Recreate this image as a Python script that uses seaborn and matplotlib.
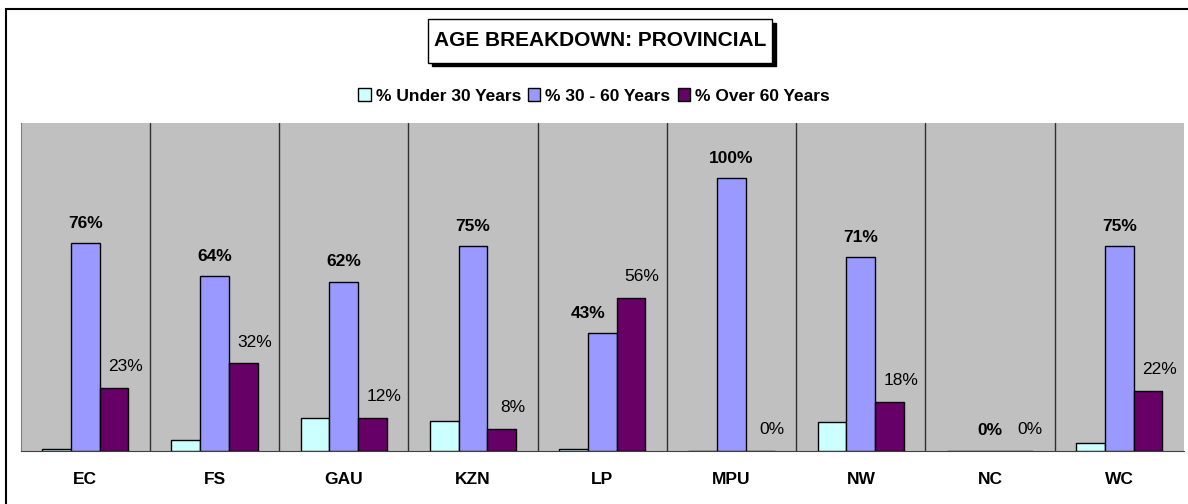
import numpy as np
import pandas as pd
import matplotlib.pyplot as plt
import seaborn as sns
from matplotlib.patches import Rectangle

# data
provinces = ['EC', 'FS', 'GAU', 'KZN', 'LP', 'MPU', 'NW', 'NC', 'WC']
series = ['% Under 30 Years', '% 30 - 60 Years', '% Over 60 Years']
under_30 = [0.5, 4, 12, 11, 0.5, 0, 10.5, 0, 3]
age_30_60 = [76, 64, 62, 75, 43, 100, 71, 0, 75]
over_60 = [23, 32, 12, 8, 56, 0, 18, 0, 22]
colours = ['#CCFFFF', '#9999FF', '#660066']

df = pd.DataFrame({
    'province': provinces * 3,
    'group': np.repeat(series, len(provinces)),
    'value': under_30 + age_30_60 + over_60,
})

sns.set_style('white')
plt.rcParams['font.family'] = ['Liberation Sans', 'DejaVu Sans']
plt.rcParams['text.color'] = 'black'
plt.rcParams['xtick.color'] = 'black'

fig = plt.figure(figsize=(11.88, 5.04), dpi=100)
W, H = 1188, 504
ax = fig.add_axes([20.7 / W, 1 - 450.7 / H, (1184 - 20.7) / W, (450.7 - 123.5) / H])
ax.set_facecolor('#C0C0C0')

sns.barplot(data=df, x='province', y='value', hue='group', palette=colours,
            order=provinces, hue_order=series, width=0.667, saturation=1,
            edgecolor='black', linewidth=1, ax=ax, zorder=3)

ax.set_ylim(0, 120)
ax.set_xlim(-0.5, len(provinces) - 0.5)
ax.set_yticks([])
ax.set_xlabel('')
ax.set_ylabel('')
ax.set_xticks(range(len(provinces)))
ax.set_xticklabels(provinces, fontsize=12.5, fontweight='bold')
ax.tick_params(axis='x', which='major', length=0, pad=15)
ax.set_xticks(np.arange(-0.5, len(provinces)), minor=True)
ax.tick_params(axis='x', which='minor', length=6, color='#404040', width=1)

# category separators
for b in np.arange(0.5, len(provinces) - 0.5):
    ax.axvline(b, color='#303030', lw=1, zorder=1)

for side in ['top', 'right']:
    ax.spines[side].set_visible(False)
ax.spines['left'].set_color('#808080')
ax.spines['bottom'].set_color('#404040')

# value labels
for i, (bar, v) in enumerate(zip(ax.containers[1], age_30_60)):
    dx = -10 if provinces[i] == 'LP' else 0
    ax.annotate(f'{v:.0f}%', (bar.get_x() + bar.get_width() / 2, bar.get_height()),
                xytext=(dx, 9), textcoords='offset points', ha='center', va='bottom',
                fontsize=12.5, fontweight='bold', zorder=5)
for bar, v in zip(ax.containers[2], over_60):
    ax.annotate(f'{v:.0f}%', (bar.get_x() + bar.get_width() / 2, bar.get_height()),
                xytext=(8, 10), textcoords='offset points', ha='center', va='bottom',
                fontsize=12.5, zorder=5)

# legend
handles, labels = ax.get_legend_handles_labels()
ax.get_legend().remove()
fig.legend(handles, labels, loc='center', bbox_to_anchor=(594 / W, 1 - 96 / H),
           ncol=3, frameon=False, prop={'weight': 'bold', 'size': 12.5},
           handlelength=0.7, handleheight=0.7, handletextpad=0.3, columnspacing=0.4)

# title box with shadow
fig.patches.append(Rectangle((432 / W, 1 - 66 / H), 344 / W, 43 / H,
                             transform=fig.transFigure, facecolor='black', edgecolor='black'))
fig.patches.append(Rectangle((428 / W, 1 - 62.7 / H), 344 / W, 43.4 / H,
                             transform=fig.transFigure, facecolor='white',
                             edgecolor='black', lw=1))
fig.text(600 / W, 1 - 41 / H, 'AGE BREAKDOWN: PROVINCIAL', ha='center', va='center',
         fontsize=15, fontweight='bold')

# outer chart border (clipped at right and bottom)
fig.patches.append(Rectangle((6 / W, -0.1), 1.2, 1.1 - 9 / H, transform=fig.transFigure,
                             fill=False, edgecolor='black', lw=1.5))

fig.savefig('out.png', dpi=100)
